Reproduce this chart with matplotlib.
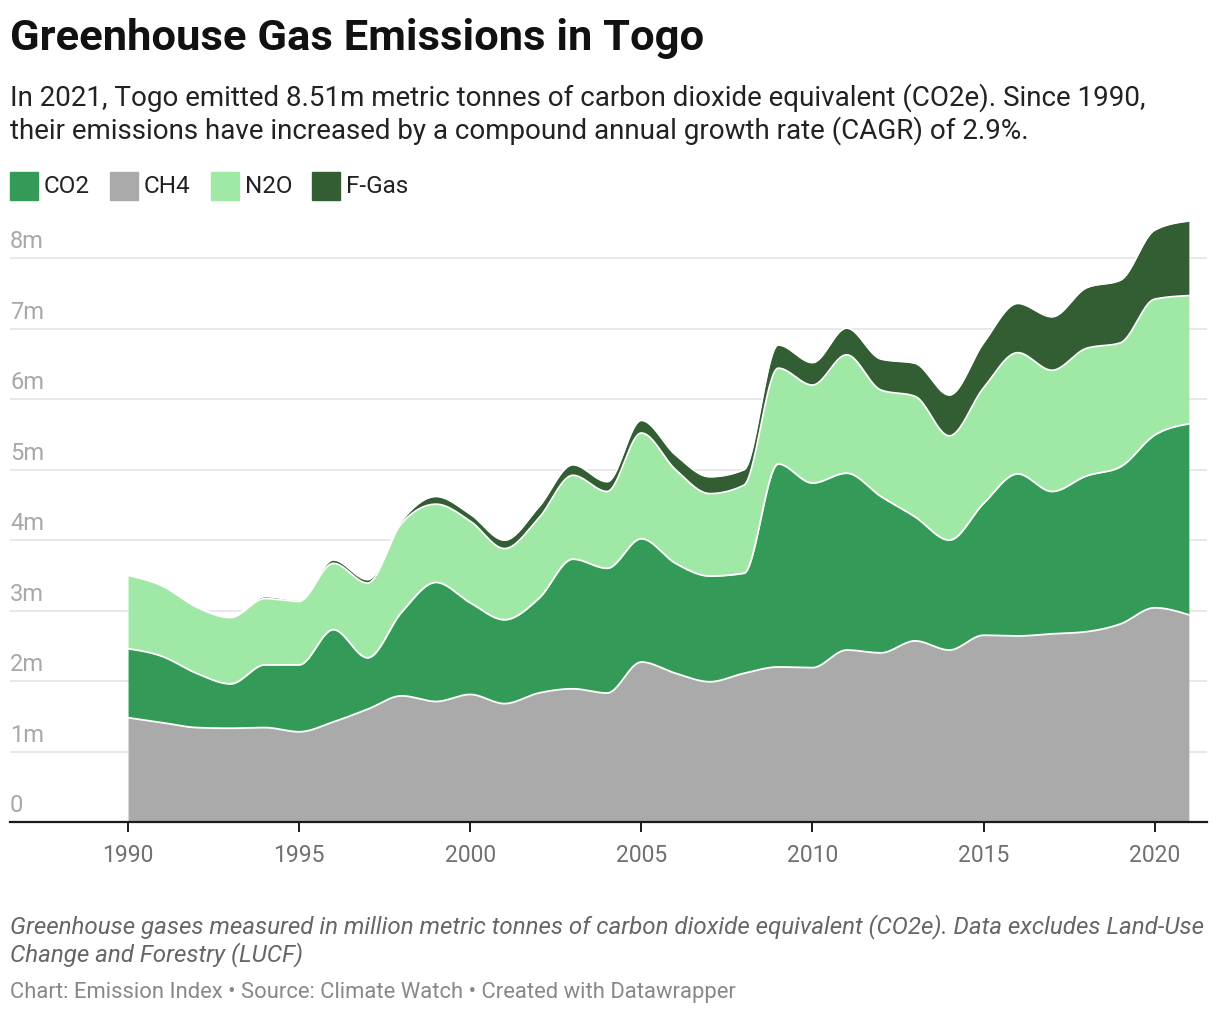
import numpy as np
import matplotlib
matplotlib.use("Agg")
import matplotlib.pyplot as plt

plt.rcParams['font.family'] = ['Roboto', 'DejaVu Sans']

# data (million tonnes CO2e)
years = list(range(1990, 2022))
ch4 = [1.48, 1.41, 1.34, 1.33, 1.34, 1.28, 1.42, 1.60, 1.79, 1.71,
       1.81, 1.68, 1.83, 1.89, 1.83, 2.27, 2.11, 1.99, 2.11, 2.20,
       2.19, 2.44, 2.40, 2.57, 2.44, 2.65, 2.64, 2.67, 2.70, 2.81,
       3.04, 2.94]
co2 = [0.98, 0.94, 0.77, 0.63, 0.89, 0.95, 1.31, 0.73, 1.19, 1.69,
       1.30, 1.19, 1.34, 1.84, 1.77, 1.75, 1.56, 1.50, 1.42, 2.88,
       2.62, 2.51, 2.22, 1.76, 1.56, 1.87, 2.30, 2.02, 2.21, 2.23,
       2.45, 2.71]
n2o = [1.04, 1.00, 0.94, 0.94, 0.94, 0.90, 0.94, 1.06, 1.26, 1.11,
       1.16, 1.01, 1.14, 1.19, 1.09, 1.50, 1.33, 1.17, 1.25, 1.36,
       1.39, 1.68, 1.51, 1.71, 1.48, 1.64, 1.72, 1.72, 1.81, 1.76,
       1.93, 1.82]
fgas = [0.01, 0.01, 0.01, 0.01, 0.03, 0.02, 0.05, 0.05, 0.04, 0.11,
        0.10, 0.12, 0.16, 0.15, 0.14, 0.18, 0.21, 0.24, 0.22, 0.33,
        0.32, 0.38, 0.44, 0.47, 0.58, 0.64, 0.70, 0.76, 0.86, 0.89,
        0.98, 1.06]

gas_names = ['CO2', 'CH4', 'N2O', 'F-Gas']
gas_colors = {'CO2': '#349a57', 'CH4': '#aaaaaa', 'N2O': '#a0e8a6', 'F-Gas': '#335e34'}
stack_order = ['CH4', 'CO2', 'N2O', 'F-Gas']
series = {'CO2': co2, 'CH4': ch4, 'N2O': n2o, 'F-Gas': fgas}

y_ticks = [0, 1, 2, 3, 4, 5, 6, 7, 8]
x_ticks = [1990, 1995, 2000, 2005, 2010, 2015, 2020]


def monotone(x, y, xs):
    """monotone cubic curve (like d3 curveMonotoneX) evaluated at xs"""
    x = np.asarray(x, float)
    y = np.asarray(y, float)
    h = np.diff(x)
    s = np.diff(y) / h
    n = len(x)
    t = np.zeros(n)
    for i in range(1, n - 1):
        p = (s[i - 1] * h[i] + s[i] * h[i - 1]) / (h[i - 1] + h[i])
        t[i] = (np.sign(s[i - 1]) + np.sign(s[i])) * min(abs(s[i - 1]), abs(s[i]), 0.5 * abs(p))
    t[0] = (3 * s[0] - t[1]) / 2
    t[-1] = (3 * s[-1] - t[-2]) / 2
    idx = np.clip(np.searchsorted(x, xs, side='right') - 1, 0, n - 2)
    hh = h[idx]
    u = (xs - x[idx]) / hh
    h00 = 2 * u**3 - 3 * u**2 + 1
    h10 = u**3 - 2 * u**2 + u
    h01 = -2 * u**3 + 3 * u**2
    h11 = u**3 - u**2
    return h00 * y[idx] + h10 * hh * t[idx] + h01 * y[idx + 1] + h11 * hh * t[idx + 1]


W, H = 1220, 1014
fig = plt.figure(figsize=(W / 100, H / 100), dpi=100)

# axes placed in pixel terms: x 10..1207, baseline at y=822
ax = fig.add_axes([10 / W, (H - 822) / H, 1197 / W, (822 - 216) / H])
ax.set_xlim(1986.55, 2021.53)
ax.set_ylim(0, 8.6)

xs = np.linspace(years[0], years[-1], 1200)
base = np.zeros_like(xs)
cum = np.zeros(len(years))
for name in stack_order:
    cum = cum + np.array(series[name])
    top = monotone(years, cum, xs)
    ax.fill_between(xs, base, top, color=gas_colors[name], lw=0, zorder=2)
    ax.plot(xs, top, color='white', lw=1.3, zorder=3)
    base = top

# gridlines and y labels
for v in y_ticks:
    if v > 0:
        ax.axhline(v, color='#e4e4e4', lw=1.2, zorder=1)
    ax.text(1986.55, v + 0.14, '0' if v == 0 else f'{v}m', ha='left', va='baseline',
            fontsize=17, color='#a8a8a8', zorder=4)

for s in ['top', 'right', 'left']:
    ax.spines[s].set_visible(False)
ax.spines['bottom'].set_color('#1a1a1a')
ax.spines['bottom'].set_linewidth(1.6)
ax.set_yticks([])
ax.set_xticks(x_ticks)
ax.set_xticklabels([str(x) for x in x_ticks])
ax.tick_params(axis='x', length=7, width=1.4, color='#1a1a1a', labelsize=16.5,
               labelcolor='#707070', pad=9)
ax.set_facecolor('none')

# header
fig.text(10 / W, 1 - 50 / H, 'Greenhouse Gas Emissions in Togo', fontsize=31.3,
         fontweight='bold', color='#111111', ha='left', va='baseline')
fig.text(10 / W, 1 - 106 / H,
         'In 2021, Togo emitted 8.51m metric tonnes of carbon dioxide equivalent (CO2e). Since 1990,',
         fontsize=20.0, color='#222222', ha='left', va='baseline')
fig.text(10 / W, 1 - 139 / H,
         'their emissions have increased by a compound annual growth rate (CAGR) of 2.9%.',
         fontsize=20.0, color='#222222', ha='left', va='baseline')

# legend
lx = 10
for name in gas_names:
    fig.patches.append(plt.Rectangle((lx / W, 1 - 200 / H), 28 / W, 28 / H,
                                     transform=fig.transFigure, color=gas_colors[name]))
    t = fig.text((lx + 34) / W, 1 - 193 / H, name, fontsize=17.5, color='#222222',
                 ha='left', va='baseline')
    fig.canvas.draw()
    bb = t.get_window_extent()
    lx = bb.x1 + 20

# footer
fig.text(10 / W, 1 - 933 / H,
         'Greenhouse gases measured in million metric tonnes of carbon dioxide equivalent (CO2e). Data excludes Land-Use',
         fontsize=17.4, style='italic', color='#666666', ha='left', va='baseline')
fig.text(10 / W, 1 - 961 / H, 'Change and Forestry (LUCF)',
         fontsize=17.4, style='italic', color='#666666', ha='left', va='baseline')
fig.text(10 / W, 1 - 998 / H,
         'Chart: Emission Index \u2022 Source: Climate Watch \u2022 Created with Datawrapper',
         fontsize=15.8, color='#888888', ha='left', va='baseline')

fig.savefig('out.png', dpi=100, facecolor='white')
